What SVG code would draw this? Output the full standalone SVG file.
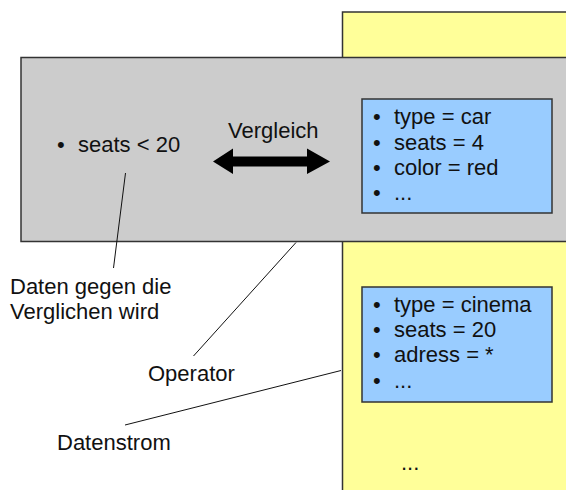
<svg xmlns="http://www.w3.org/2000/svg" width="566" height="490" viewBox="0 0 566 490">
<style>
text { font-family: "Liberation Sans", Arial, sans-serif; font-size: 22px; fill: #111; }
.frame { stroke: #333; stroke-width: 1.5; }
.conn { stroke: #111; stroke-width: 1; fill: none; }
</style>
<rect width="566" height="490" fill="#ffffff"/>
<g id="datenstrom-band">
<rect class="frame" x="342.5" y="12" width="240" height="490" fill="#ffff99"/>
</g>
<g id="operator">
<rect class="frame" x="21" y="57.5" width="560" height="184" fill="#cccccc"/>
</g>
<g id="query">
<text x="57" y="152">•</text>
<text x="78" y="152">seats &lt; 20</text>
</g>
<g id="vergleich">
<text x="228" y="138">Vergleich</text>
<polygon points="213,161.5 233,148.5 233,156.5 307,156.5 307,148.5 330,161.5 307,174 307,166.5 233,166.5 233,174" fill="#000"/>
</g>
<g id="tuple1">
<rect class="frame" x="362" y="99" width="190" height="114" fill="#99ccff"/>
<text x="373" y="124">•</text><text x="394" y="124">type = car</text>
<text x="373" y="150">•</text><text x="394" y="150">seats = 4</text>
<text x="373" y="175">•</text><text x="394" y="175">color = red</text>
<text x="373" y="200">•</text><text x="394" y="200">...</text>
</g>
<g id="tuple2">
<rect class="frame" x="362" y="287" width="190" height="115" fill="#99ccff"/>
<text x="373" y="312">•</text><text x="394" y="312">type = cinema</text>
<text x="373" y="337">•</text><text x="394" y="337">seats = 20</text>
<text x="373" y="362">•</text><text x="394" y="362">adress = *</text>
<text x="373" y="388">•</text><text x="394" y="388">...</text>
</g>
<g id="more">
<text x="401" y="470">...</text>
</g>
<g id="label-daten">
<text x="10" y="294">Daten gegen die</text>
<text x="10" y="319">Verglichen wird</text>
</g>
<g id="label-operator">
<text x="148" y="381">Operator</text>
</g>
<g id="label-datenstrom">
<text x="57" y="450">Datenstrom</text>
</g>
<g id="connectors">
<line class="conn" x1="125.5" y1="173" x2="113.5" y2="268"/>
<line class="conn" x1="296" y1="242.5" x2="193.5" y2="356"/>
<line class="conn" x1="341" y1="370.5" x2="125" y2="425"/>
</g>
</svg>
